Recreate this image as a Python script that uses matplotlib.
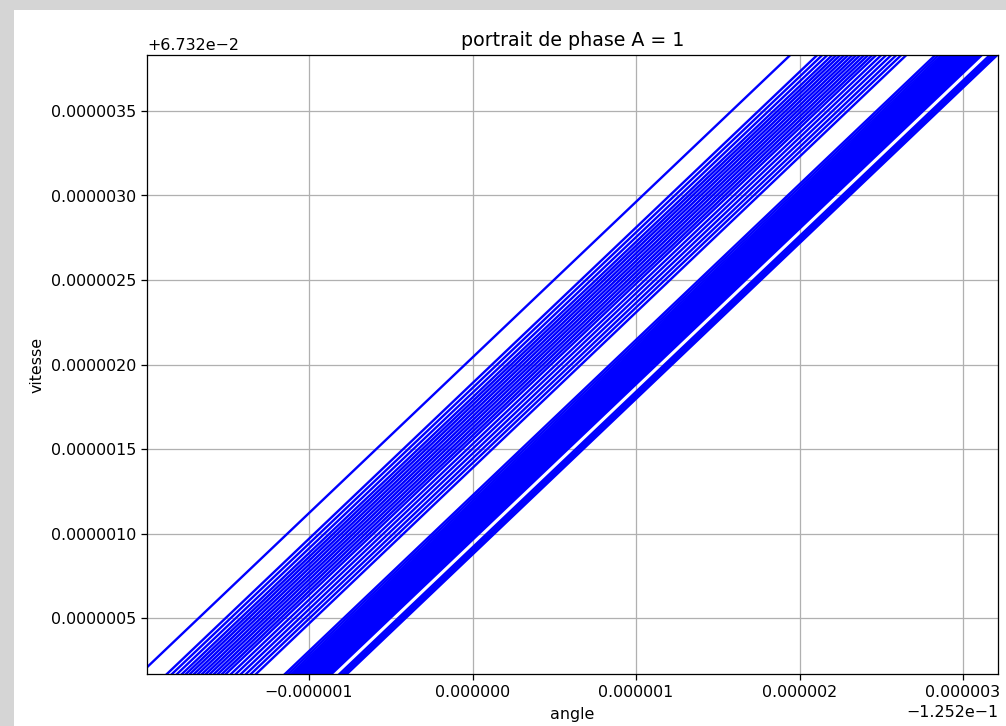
import matplotlib
matplotlib.use("Agg")
import matplotlib.pyplot as plt
import numpy as np
from matplotlib.patches import Rectangle

# reference point of the zoomed window (angle, vitesse)
ANGLE_REF = -0.1252
VITESSE_REF = 0.06732

# each trajectory pass through the window: angle (in 1e-6 units from
# ANGLE_REF) where it crosses vitesse = 0 and vitesse = 4 (1e-6 units)
angle_bas = [
    -2.220,
    -2.055, -2.024, -1.993, -1.963, -1.938, -1.914, -1.889, -1.865,
    -1.840, -1.816, -1.792, -1.767, -1.743, -1.718, -1.694, -1.663,
    -1.633, -1.602, -1.571, -1.541, -1.510,
    -1.333, -1.314, -1.296, -1.281, -1.269, -1.259,
    -1.250, -1.241, -1.232, -1.223, -1.214, -1.204, -1.195, -1.186,
    -1.177, -1.168, -1.159, -1.149, -1.140, -1.131, -1.122, -1.113,
    -1.103, -1.094, -1.085, -1.076, -1.067, -1.058, -1.048,
    -0.9995, -0.984, -0.969, -0.954,
]
angle_haut = [
    2.128,
    2.293, 2.324, 2.355, 2.385, 2.410, 2.434, 2.459, 2.483,
    2.508, 2.532, 2.556, 2.581, 2.605, 2.630, 2.654, 2.685,
    2.715, 2.746, 2.777, 2.807, 2.838,
    3.015, 3.034, 3.052, 3.067, 3.079, 3.089,
    3.098, 3.107, 3.116, 3.125, 3.134, 3.144, 3.153, 3.162,
    3.171, 3.180, 3.189, 3.199, 3.208, 3.217, 3.226, 3.235,
    3.245, 3.254, 3.263, 3.272, 3.281, 3.290, 3.300,
    3.3485, 3.364, 3.379, 3.394,
]
vitesse_bornes = [0.0, 4.0]

# visible window, same 1e-6 units
angle_lim = [-1.991, 3.214]
vitesse_lim = [0.171, 3.831]

W, H = 1006, 726
fig = plt.figure(figsize=(W / 114, 726.1 / 114), dpi=114, facecolor="white")
# grey window frame along the top and left edges
for x0, y0, w, h in [(0, 1 - 10 / H, 1, 10 / H), (0, 0, 14 / W, 1)]:
    fig.patches.append(Rectangle((x0, y0), w, h, transform=fig.transFigure,
                                 facecolor="#d5d5d5", edgecolor="none"))

ax = fig.add_axes([147 / W, 1 - 674 / H, (998 - 147) / W, (674 - 55) / H])

vy = VITESSE_REF + np.array(vitesse_bornes) * 1e-6
for a0, a1 in zip(angle_bas, angle_haut):
    ax.plot(ANGLE_REF + np.array([a0, a1]) * 1e-6, vy, color="b", lw=1.5)

ax.set_xlim(ANGLE_REF + angle_lim[0] * 1e-6, ANGLE_REF + angle_lim[1] * 1e-6)
ax.set_ylim(VITESSE_REF + vitesse_lim[0] * 1e-6, VITESSE_REF + vitesse_lim[1] * 1e-6)
ax.ticklabel_format(style="plain", useOffset=True)
ax.grid(True)
ax.set_title("portrait de phase A = 1")
ax.set_xlabel("angle")
ax.set_ylabel("vitesse")

fig.savefig("out.png", dpi=114)
